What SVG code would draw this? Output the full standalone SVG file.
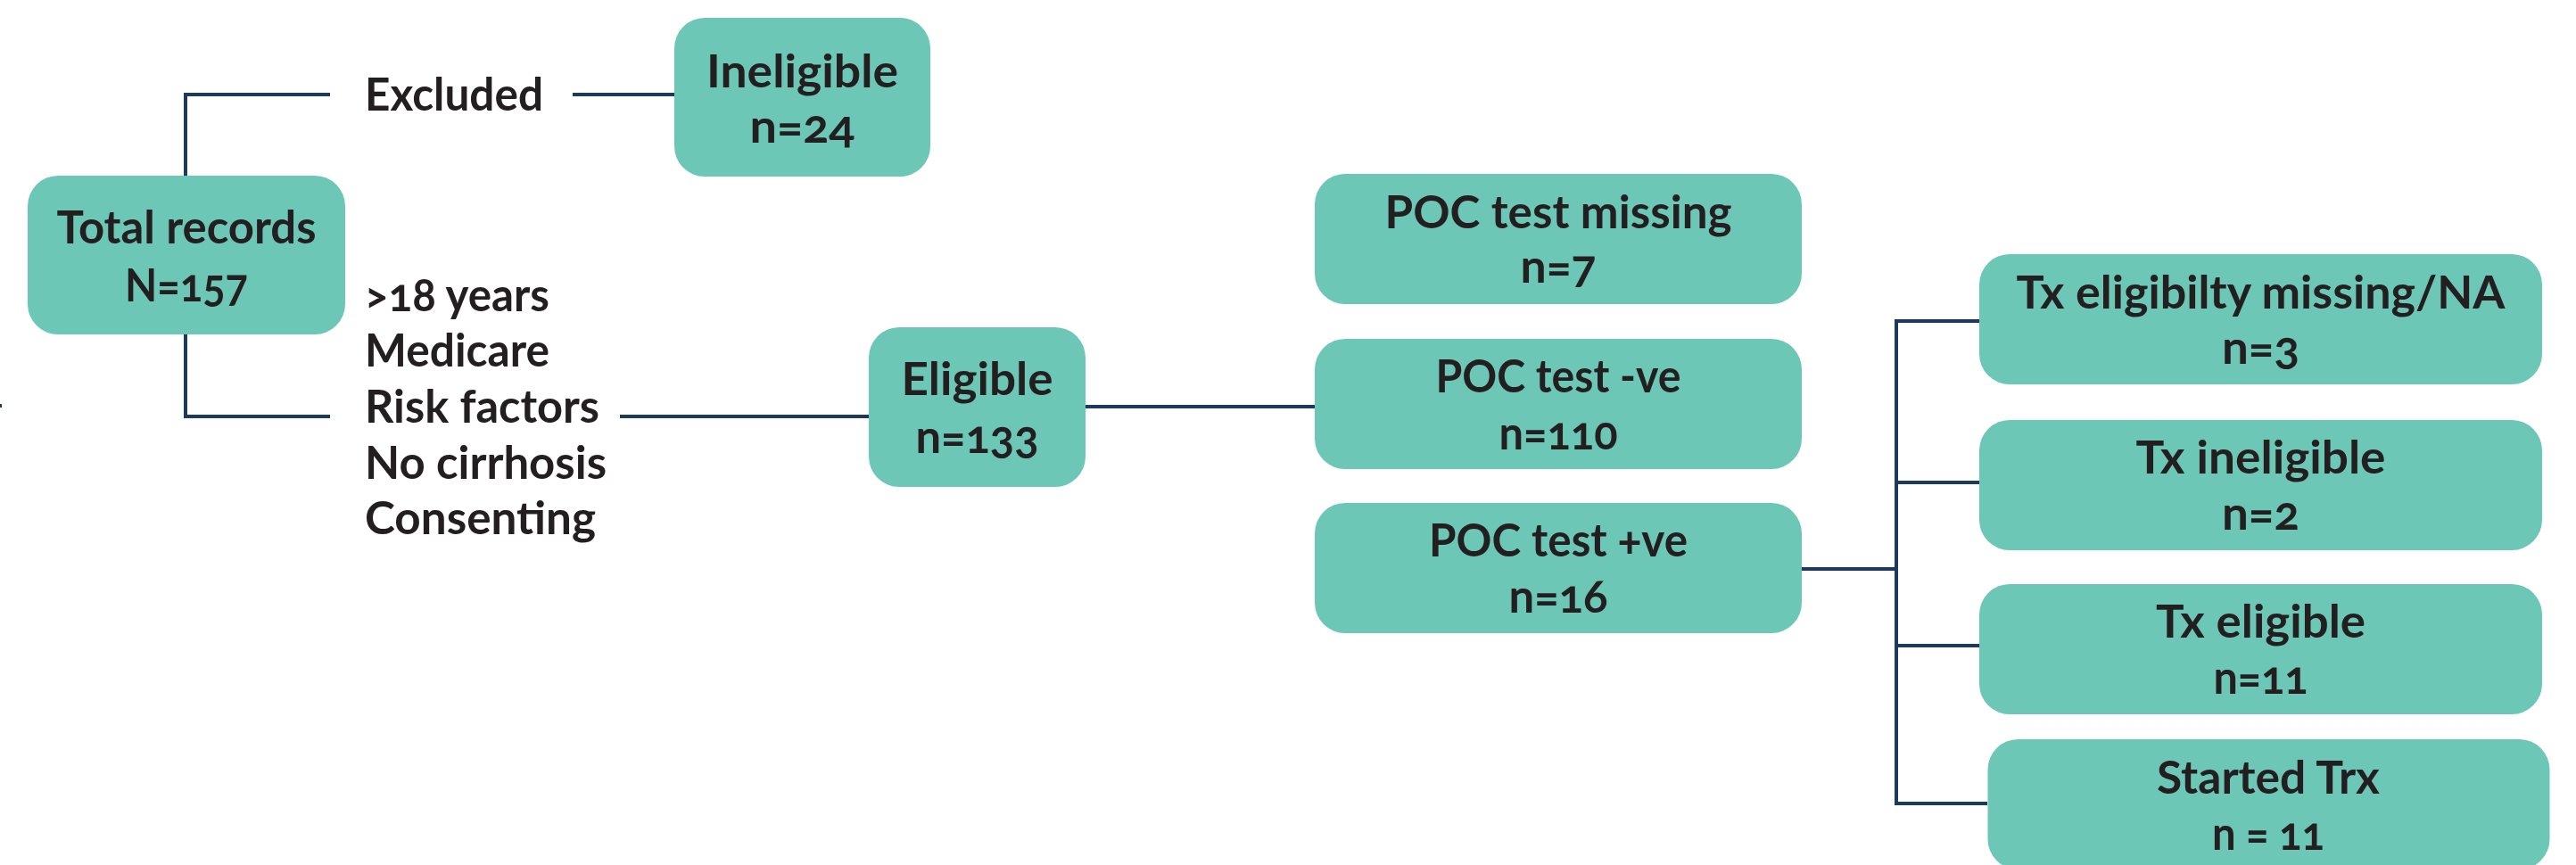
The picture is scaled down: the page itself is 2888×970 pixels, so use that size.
<svg xmlns="http://www.w3.org/2000/svg" width="2888" height="970" viewBox="0 0 2888 970">
<style>
.box{fill:#6CC7B6;}
.t{font-family:Lato,"Open Sans","Liberation Sans",sans-serif;font-weight:700;font-size:52px;fill:#231F20;text-anchor:middle;font-variant-numeric:oldstyle-nums;}
.l{text-anchor:start;}
.c{fill:none;stroke:#1B3A5C;stroke-width:4;}
</style>
<rect width="2888" height="970" fill="#FFFFFF"/>
<g id="connectors">
<path class="c" d="M370 106 H208 V197"/>
<path class="c" d="M642 106 H756"/>
<path class="c" d="M208 375 V467 H370"/>
<path class="c" d="M695 467 H974"/>
<path class="c" d="M1217 456 H1474"/>
<path class="c" d="M2020 638 H2126"/>
<path class="c" d="M2219 360 H2126 V901 H2228"/>
<path class="c" d="M2126 541 H2219"/>
<path class="c" d="M2126 724 H2219"/>
<rect x="0" y="453" width="2" height="4" fill="#1B3A5C"/>
</g>
<g id="total">
<rect class="box" x="31" y="197" width="356" height="178" rx="34"/>
<text class="t" x="209" y="273" textLength="291" lengthAdjust="spacingAndGlyphs">Total records</text>
<text class="t" x="209" y="338" textLength="138" lengthAdjust="spacingAndGlyphs">N=157</text>
</g>
<g id="excluded">
<text class="t l" x="409" y="124" textLength="200" lengthAdjust="spacingAndGlyphs">Excluded</text>
</g>
<g id="ineligible">
<rect class="box" x="756" y="20" width="287" height="178" rx="34"/>
<text class="t" x="899.5" y="98" textLength="215" lengthAdjust="spacingAndGlyphs">Ineligible</text>
<text class="t" x="899.5" y="160" textLength="118" lengthAdjust="spacingAndGlyphs">n=24</text>
</g>
<g id="criteria">
<text class="t l" x="409" y="349" textLength="207" lengthAdjust="spacingAndGlyphs">&gt;18 years</text>
<text class="t l" x="409" y="411" textLength="207" lengthAdjust="spacingAndGlyphs">Medicare</text>
<text class="t l" x="409" y="474" textLength="263" lengthAdjust="spacingAndGlyphs">Risk factors</text>
<text class="t l" x="409" y="537" textLength="271" lengthAdjust="spacingAndGlyphs">No cirrhosis</text>
<text class="t l" x="409" y="599" textLength="259" lengthAdjust="spacingAndGlyphs">Consenting</text>
</g>
<g id="eligible">
<rect class="box" x="974" y="367" width="243" height="179" rx="34"/>
<text class="t" x="1095.5" y="443" textLength="170" lengthAdjust="spacingAndGlyphs">Eligible</text>
<text class="t" x="1095.5" y="508" textLength="138" lengthAdjust="spacingAndGlyphs">n=133</text>
</g>
<g id="poc-missing">
<rect class="box" x="1474" y="195" width="546" height="146" rx="34"/>
<text class="t" x="1747" y="256" textLength="389" lengthAdjust="spacingAndGlyphs">POC test missing</text>
<text class="t" x="1747" y="317" textLength="85" lengthAdjust="spacingAndGlyphs">n=7</text>
</g>
<g id="poc-neg">
<rect class="box" x="1474" y="380" width="546" height="146" rx="34"/>
<text class="t" x="1747" y="440" textLength="275" lengthAdjust="spacingAndGlyphs">POC test -ve</text>
<text class="t" x="1747" y="504" textLength="133" lengthAdjust="spacingAndGlyphs">n=110</text>
</g>
<g id="poc-pos">
<rect class="box" x="1474" y="564" width="546" height="146" rx="34"/>
<text class="t" x="1747" y="624" textLength="290" lengthAdjust="spacingAndGlyphs">POC test +ve</text>
<text class="t" x="1747" y="687" textLength="111" lengthAdjust="spacingAndGlyphs">n=16</text>
</g>
<g id="tx-missing">
<rect class="box" x="2219" y="285" width="631" height="146" rx="34"/>
<text class="t" x="2534.5" y="346" textLength="548" lengthAdjust="spacingAndGlyphs">Tx eligibilty missing/NA</text>
<text class="t" x="2534.5" y="408" textLength="87" lengthAdjust="spacingAndGlyphs">n=3</text>
</g>
<g id="tx-ineligible">
<rect class="box" x="2219" y="471" width="631" height="146" rx="34"/>
<text class="t" x="2534.5" y="531" textLength="280" lengthAdjust="spacingAndGlyphs">Tx ineligible</text>
<text class="t" x="2534.5" y="594" textLength="87" lengthAdjust="spacingAndGlyphs">n=2</text>
</g>
<g id="tx-eligible">
<rect class="box" x="2219" y="655" width="631" height="146" rx="34"/>
<text class="t" x="2534.5" y="715" textLength="235" lengthAdjust="spacingAndGlyphs">Tx eligible</text>
<text class="t" x="2534.5" y="778" textLength="106" lengthAdjust="spacingAndGlyphs">n=11</text>
</g>
<g id="started">
<rect class="box" x="2228.5" y="829" width="630" height="146" rx="34"/>
<text class="t" x="2543" y="890" textLength="250" lengthAdjust="spacingAndGlyphs">Started Trx</text>
<text class="t" x="2543" y="953" textLength="126" lengthAdjust="spacingAndGlyphs">n = 11</text>
</g>
</svg>
